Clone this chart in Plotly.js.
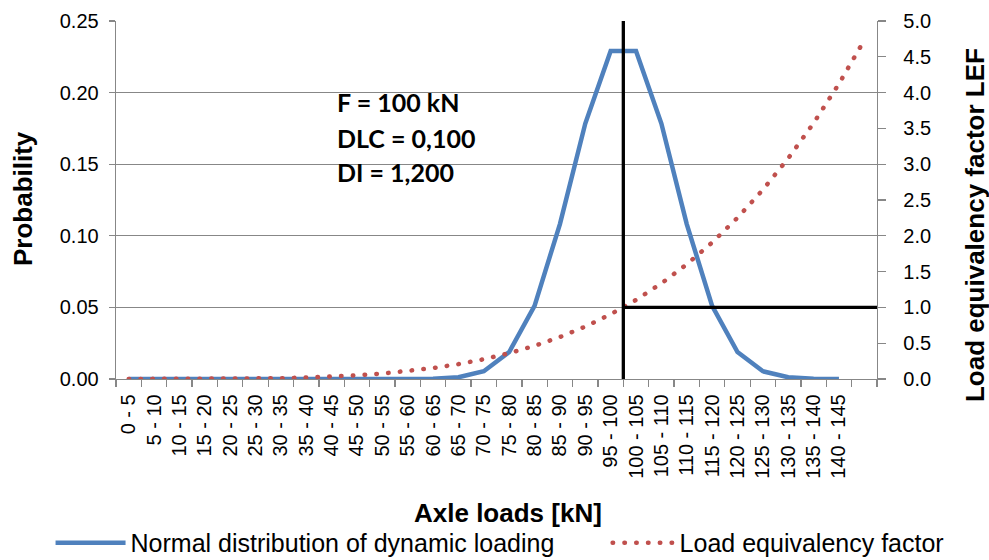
<!DOCTYPE html>
<html>
<head>
<meta charset="utf-8">
<script src="https://cdn.plot.ly/plotly-3.0.1.min.js"></script>
<style>
  html, body { margin: 0; padding: 0; background: #ffffff; }
  #chart { width: 989px; height: 560px; }
</style>
</head>
<body>
<div id="chart"></div>
<script>
// Axle load classes [kN]
const categories = [
  '0 - 5', '5 - 10', '10 - 15', '15 - 20', '20 - 25', '25 - 30', '30 - 35', '35 - 40',
  '40 - 45', '45 - 50', '50 - 55', '55 - 60', '60 - 65', '65 - 70', '70 - 75', '75 - 80',
  '80 - 85', '85 - 90', '90 - 95', '95 - 100', '100 - 105', '105 - 110', '110 - 115',
  '115 - 120', '120 - 125', '125 - 130', '130 - 135', '135 - 140', '140 - 145', ' '
];

// Normal distribution of dynamic loading (probability per class)
const probability = [
  0, 0, 0, 0, 0, 0, 0, 0, 0, 0, 0, 0,
  0.0002, 0.0012, 0.0054, 0.0188, 0.0511, 0.1082, 0.1784, 0.2290,
  0.2290, 0.1784, 0.1082, 0.0511, 0.0188, 0.0054, 0.0012, 0.0002, 0.0000
];

// Load equivalency factor (LEF)
const lef = [
  0.000, 0.000, 0.000, 0.001, 0.003, 0.006, 0.011, 0.020, 0.033, 0.051,
  0.076, 0.109, 0.153, 0.208, 0.276, 0.361, 0.463, 0.586, 0.732, 0.904,
  1.104, 1.335, 1.602, 1.906, 2.252, 2.643, 3.082, 3.574, 4.123, 4.733
];

const seriesNames = ['Normal distribution of dynamic loading', 'Load equivalency factor'];
const boxLines = ['F = 100 kN', 'DLC = 0,100', 'DI = 1,200'];

const referenceLoadClass = '100 - 105';   // vertical marker at F = 100 kN (left boundary)
const referenceLEF = 1.0;                 // horizontal marker at LEF = 1

const gridColor = '#878787';
const tickFont = { family: 'Liberation Sans, Arial, sans-serif', size: 20, color: '#000000' };
const titleFont = { family: 'Liberation Sans, Arial, sans-serif', size: 26, color: '#000000', weight: 'bold' };
const boxFont = { family: 'Lato, Open Sans, sans-serif', size: 25, color: '#000000', weight: 'bold' };
const legendFont = { family: 'Liberation Sans, Arial, sans-serif', size: 25, color: '#000000' };

const refIdx = categories.indexOf(referenceLoadClass) - 0.5;

const traces = [
  {
    type: 'scatter', mode: 'lines', name: seriesNames[0],
    x: categories.slice(0, probability.length), y: probability,
    line: { color: '#4F81BD', width: 4.5 },
    cliponaxis: false, hoverinfo: 'skip', legend: 'legend'
  },
  {
    type: 'scatter', mode: 'lines', name: seriesNames[1],
    x: categories, y: lef, yaxis: 'y2',
    line: { color: '#C0504D', width: 4.5, dash: '0.5px,11.3px' },
    cliponaxis: false, hoverinfo: 'skip', legend: 'legend2'
  }
];

const annotations = [
  { text: boxLines[0], xref: 'paper', yref: 'paper', x: 0.2878, y: 0.7733, xanchor: 'left', yanchor: 'middle', showarrow: false, font: boxFont },
  { text: boxLines[1], xref: 'paper', yref: 'paper', x: 0.2878, y: 0.6743, xanchor: 'left', yanchor: 'middle', showarrow: false, font: boxFont },
  { text: boxLines[2], xref: 'paper', yref: 'paper', x: 0.2878, y: 0.5781, xanchor: 'left', yanchor: 'middle', showarrow: false, font: boxFont },
  { text: 'Probability', xref: 'paper', yref: 'paper', x: -0.1229, y: 0.504, textangle: -90, xanchor: 'center', yanchor: 'middle', showarrow: false, font: titleFont },
  { text: 'Load equivalency factor LEF', xref: 'paper', yref: 'paper', x: 1.1288, y: 0.43, textangle: -90, xanchor: 'center', yanchor: 'middle', showarrow: false, font: titleFont },
  { text: 'Axle loads [kN]', xref: 'paper', yref: 'paper', x: 0.515, y: -0.3756, xanchor: 'center', yanchor: 'middle', showarrow: false, font: titleFont }
];

const shapes = [
  { type: 'rect', layer: 'between', xref: 'paper', yref: 'paper', x0: 0.2615, x1: 0.5348, y0: 0.50, y1: 0.89, fillcolor: '#ffffff', line: { width: 0 } },
  { type: 'line', layer: 'above', xref: 'x', yref: 'paper', x0: refIdx, x1: refIdx, y0: 0, y1: 1, line: { color: '#000000', width: 3.3 } },
  { type: 'line', layer: 'above', xref: 'x', yref: 'y2', x0: refIdx, x1: categories.length - 0.5, y0: referenceLEF, y1: referenceLEF, line: { color: '#000000', width: 3.3 } }
];

const layout = {
  width: 989, height: 560,
  margin: { l: 116, r: 112, t: 21, b: 181, pad: 0, autoexpand: false },
  paper_bgcolor: '#ffffff', plot_bgcolor: '#ffffff',
  showlegend: true,
  legend: {
    orientation: 'h', xref: 'paper', yref: 'paper',
    x: -0.086, xanchor: 'left', y: -0.458, yanchor: 'middle',
    font: legendFont, itemwidth: 70, bgcolor: 'rgba(0,0,0,0)'
  },
  legend2: {
    orientation: 'h', xref: 'paper', yref: 'paper',
    x: 0.646, xanchor: 'left', y: -0.458, yanchor: 'middle',
    font: legendFont, itemwidth: 62, bgcolor: 'rgba(0,0,0,0)'
  },
  xaxis: {
    type: 'category', categoryorder: 'array', categoryarray: categories,
    range: [-0.5, categories.length - 0.5],
    tickmode: 'linear', tick0: 0, dtick: 1, tickson: 'boundaries',
    tickangle: -90, tickfont: tickFont, ticklabelstandoff: 6,
    ticks: 'outside', ticklen: 7, tickcolor: gridColor, tickwidth: 1.3,
    showline: true, linecolor: gridColor, linewidth: 1.3,
    showgrid: false, zeroline: false, layer: 'below traces', fixedrange: true
  },
  yaxis: {
    range: [0, 0.25], tickmode: 'linear', tick0: 0, dtick: 0.05, tickformat: '.2f',
    tickfont: tickFont, ticks: 'outside', ticklen: 6, tickcolor: gridColor, tickwidth: 1.3,
    showline: true, linecolor: gridColor, linewidth: 1.3,
    showgrid: true, gridcolor: gridColor, gridwidth: 1.3, zeroline: false,
    ticklabelstandoff: 6, layer: 'below traces', fixedrange: true
  },
  yaxis2: {
    overlaying: 'y', side: 'right', anchor: 'x',
    range: [0, 5], tickmode: 'linear', tick0: 0, dtick: 0.5, tickformat: '.1f',
    tickfont: tickFont, ticks: 'outside', ticklen: 8, tickcolor: gridColor, tickwidth: 1.3,
    showline: true, linecolor: gridColor, linewidth: 1.3,
    showgrid: false, zeroline: false, ticklabelstandoff: 13, layer: 'below traces', fixedrange: true
  },
  annotations: annotations,
  shapes: shapes
};

Plotly.newPlot('chart', traces, layout, { staticPlot: true, displayModeBar: false }).then(function (gd) {
  // Round dots for the dotted LEF line (plot and legend)
  gd.querySelectorAll('path').forEach(function (p) {
    if ((p.style.strokeDasharray || '').indexOf('0.5') === 0) { p.style.strokeLinecap = 'round'; }
  });
});
</script>
</body>
</html>
